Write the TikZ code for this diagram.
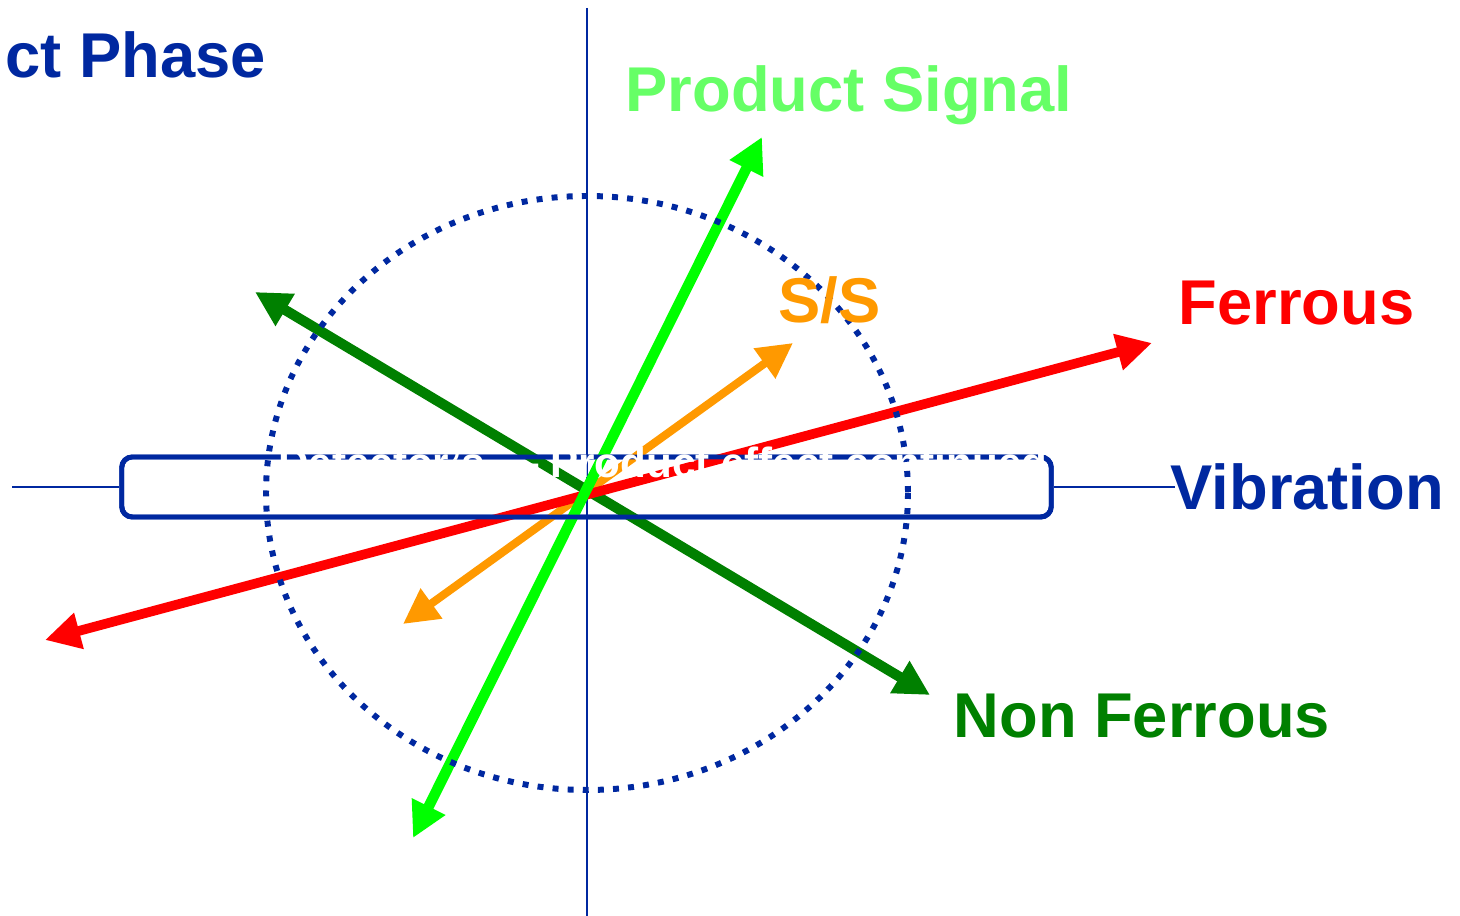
\documentclass[tikz,border=0pt]{standalone}
\usepackage{fontspec}
\setmainfont{Liberation Sans}
\usepackage{tikz}
\usetikzlibrary{arrows.meta,positioning,calc}
\definecolor{phaseblue}{RGB}{0,40,160}
\definecolor{signalgreen}{RGB}{0,255,0}
\definecolor{signaltext}{RGB}{102,255,102}
\definecolor{nfgreen}{RGB}{0,128,0}
\definecolor{ferred}{RGB}{255,0,0}
\definecolor{ssorange}{RGB}{255,153,0}
\tikzset{
    axisline/.style={
        phaseblue,
        line width=0.6pt
    },
    vector/.style={
        {Triangle[length=10pt,width=10pt]}-{Triangle[length=10pt,width=10pt]},
        line width=2.9pt
    },
    vlabel/.style={
        anchor=base west,
        inner sep=0pt,
        font=\fontsize{18pt}{20pt}\selectfont\bfseries
    },
    factorbox/.style={
        rectangle,
        rounded corners=3pt,
        draw=phaseblue,
        line width=1.4pt,
        minimum width=9.29cm,
        minimum height=0.6cm
    },
    limitcircle/.style={
        phaseblue,
        line width=1.7pt,
        dash pattern=on 1.7pt off 2.6pt
    }
}
\begin{document}
\begin{tikzpicture}[x=0.01cm,y=-0.01cm]
    \useasboundingbox (0,0) rectangle (1460,916);

    % Axes
    \node[factorbox] (box) at (586.5,487) {};
    \coordinate (xl) at (12,487);
    \coordinate (xr) at (1175,487);
    \coordinate (yt) at (587,8);
    \coordinate (yb) at (587,916);
    \draw[axisline] (xl) -- (box.west);
    \draw[axisline] (box.east) -- (xr);
    \draw[axisline] (yt) -- (yb);

    % Vector end points
    \coordinate (nfA) at (255,292);
    \coordinate (nfB) at (930,695);
    \coordinate (ssA) at (403,624);
    \coordinate (ssB) at (793,343);
    \coordinate (feA) at (45,640);
    \coordinate (feB) at (1152,343);
    \coordinate (psA) at (413,838);
    \coordinate (psB) at (762,137);

    % Vectors
    \draw[vector, nfgreen] (nfA) -- (nfB);
    \draw[vector, ssorange, line width=2.3pt] (ssA) -- (ssB);
    \draw[vector, ferred, line width=2.75pt] (feA) -- (feB);
    \draw[vector, signalgreen, line width=3pt] (psA) -- (psB);

    % Box border and limit circle on top
    \node[factorbox] at (box) {};
    \draw[limitcircle] (587,493) ellipse [x radius=321, y radius=297];

    % Labels
    \node[vlabel, phaseblue] (phase) at (5,78) {ct Phase};
    \node[vlabel, signaltext] (signal) at (625,112) {Product Signal};
    \node[vlabel, ssorange] (ss) at (778,323) {S/S};
    \node[vlabel, ferred] (ferrous) at (1178,325) {Ferrous};
    \node[vlabel, phaseblue] (vib) at (1170,510) {Vibration};
    \node[vlabel, nfgreen] (nonfe) at (953,738) {Non Ferrous};
    \node[anchor=base east, inner sep=0pt, white,
          font=\fontsize{12pt}{14pt}\selectfont\bfseries] (factor) at (1048,478)
          {Detector's \textemdash{} Product effect continued};
\end{tikzpicture}
\end{document}
